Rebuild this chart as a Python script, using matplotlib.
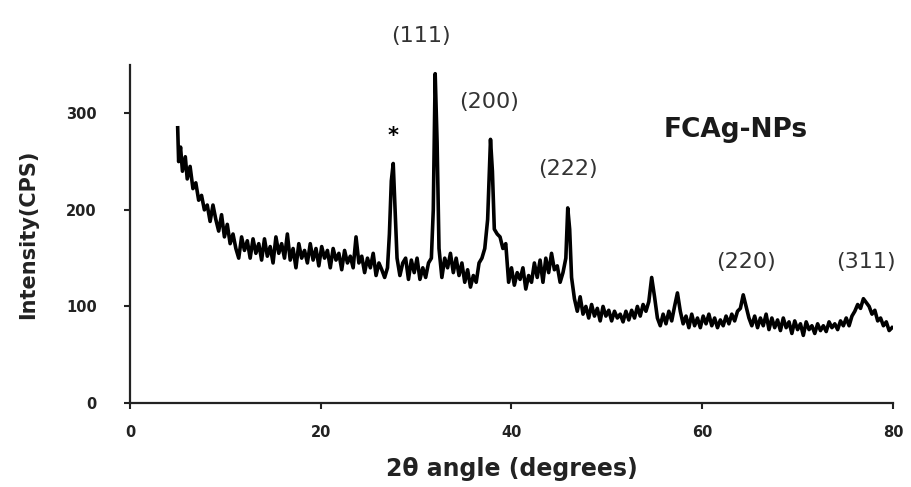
import matplotlib
matplotlib.use("Agg")
import matplotlib.pyplot as plt

# XRD pattern of FCAg-NPs
two_theta = [
    5.0, 5.1, 5.3, 5.5, 5.8, 6.0, 6.3, 6.6, 6.9, 7.2, 7.5, 7.8, 8.1, 8.4, 8.7,
    9.0, 9.3, 9.6, 9.9, 10.2, 10.5, 10.8, 11.1, 11.4, 11.7, 12.0, 12.3, 12.6,
    12.9, 13.2, 13.5, 13.8, 14.1, 14.4, 14.7, 15.0, 15.3, 15.6, 15.9, 16.2,
    16.5, 16.8, 17.1, 17.4, 17.7, 18.0, 18.3, 18.6, 18.9, 19.2, 19.5, 19.8,
    20.1, 20.4, 20.7, 21.0, 21.3, 21.6, 21.9, 22.2, 22.5, 22.8, 23.1, 23.4,
    23.7, 24.0, 24.3, 24.6, 24.9, 25.2, 25.5, 25.8, 26.1, 26.4, 26.7, 27.0,
    27.2, 27.4, 27.6, 27.8, 28.0, 28.3, 28.6, 28.9, 29.2, 29.5, 29.8, 30.1,
    30.4, 30.7, 31.0, 31.3, 31.6, 31.8, 32.0, 32.2, 32.4, 32.7, 33.0, 33.3,
    33.6, 33.9, 34.2, 34.5, 34.8, 35.1, 35.4, 35.7, 36.0, 36.3, 36.6, 36.9,
    37.2, 37.5, 37.8, 38.0, 38.2, 38.5, 38.8, 39.1, 39.4, 39.7, 40.0, 40.3,
    40.6, 40.9, 41.2, 41.5, 41.8, 42.1, 42.4, 42.7, 43.0, 43.3, 43.6, 43.9,
    44.2, 44.5, 44.8, 45.1, 45.4, 45.7, 45.9, 46.1, 46.3, 46.6, 46.9, 47.2,
    47.5, 47.8, 48.1, 48.4, 48.7, 49.0, 49.3, 49.6, 49.9, 50.2, 50.5, 50.8,
    51.1, 51.4, 51.7, 52.0, 52.3, 52.6, 52.9, 53.2, 53.5, 53.8, 54.1, 54.4,
    54.7, 55.0, 55.3, 55.6, 55.9, 56.2, 56.5, 56.8, 57.1, 57.4, 57.7, 58.0,
    58.3, 58.6, 58.9, 59.2, 59.5, 59.8, 60.1, 60.4, 60.7, 61.0, 61.3, 61.6,
    61.9, 62.2, 62.5, 62.8, 63.1, 63.4, 63.7, 64.0, 64.3, 64.6, 64.9, 65.2,
    65.5, 65.8, 66.1, 66.4, 66.7, 67.0, 67.3, 67.6, 67.9, 68.2, 68.5, 68.8,
    69.1, 69.4, 69.7, 70.0, 70.3, 70.6, 70.9, 71.2, 71.5, 71.8, 72.1, 72.4,
    72.7, 73.0, 73.3, 73.6, 73.9, 74.2, 74.5, 74.8, 75.1, 75.4, 75.7, 76.0,
    76.3, 76.6, 76.9, 77.2, 77.5, 77.8, 78.1, 78.4, 78.7, 79.0, 79.3, 79.6,
    79.9,
]
intensity = [
    285, 250, 265, 240, 255, 232, 245, 222, 228, 210, 215, 200, 205, 188, 205,
    190, 178, 195, 172, 185, 165, 175, 160, 150, 172, 158, 168, 150,
    170, 155, 165, 148, 170, 152, 162, 145, 172, 155, 165, 150,
    175, 148, 160, 140, 165, 150, 158, 145, 165, 148, 160, 142,
    162, 150, 158, 140, 160, 148, 155, 138, 158, 145, 152, 140,
    172, 145, 152, 135, 150, 140, 155, 132, 145, 138, 130, 140,
    175, 230, 248, 200, 150, 132, 145, 150, 128, 148, 135, 150,
    128, 140, 130, 145, 150, 200, 341, 270, 160, 130, 150, 140,
    155, 135, 150, 132, 145, 125, 138, 120, 132, 125, 145, 150,
    160, 190, 273, 240, 180, 175, 172, 160, 165, 125, 140, 122,
    135, 128, 140, 118, 132, 125, 145, 130, 148, 125, 150, 135,
    155, 138, 142, 125, 135, 150, 202, 180, 130, 108, 95, 110,
    92, 100, 88, 102, 90, 98, 85, 100, 90, 96, 85, 95,
    88, 92, 84, 95, 86, 96, 88, 100, 90, 102, 95, 105,
    130, 110, 88, 80, 92, 82, 95, 85, 100, 114, 95, 82,
    90, 78, 92, 80, 88, 78, 90, 82, 92, 80, 88, 78,
    86, 80, 90, 82, 92, 85, 95, 98, 112, 100, 88, 80,
    90, 78, 88, 80, 92, 76, 88, 78, 86, 75, 88, 78,
    84, 72, 85, 76, 82, 70, 84, 76, 80, 72, 82, 75,
    80, 74, 84, 78, 82, 76, 85, 80, 88, 80, 90, 95,
    102, 98, 108, 104, 100, 92, 96, 85, 88, 80, 84, 75,
    78,
]

# Miller-index labels and where they sit (x in degrees, y in CPS)
peak_labels = ["(111)", "(200)", "(222)", "(220)", "(311)"]
peak_label_x = [30.5, 37.6, 45.9, 64.6, 77.2]
peak_label_y = [380, 312, 242, 146, 146]

plt.rcParams["font.family"] = ["DejaVu Sans"]

fig = plt.figure(figsize=(9.11, 4.87), dpi=100)
ax = fig.add_axes([0.1427, 0.1725, 0.8375, 0.694])

ax.plot(two_theta, intensity, color="black", linewidth=2.6)

ax.set_xlim(0, 80)
ax.set_ylim(0, 350)
ax.set_xticks([0, 20, 40, 60, 80])
ax.set_yticks([0, 100, 200, 300])

for side in ("top", "right"):
    ax.spines[side].set_visible(False)
for side in ("left", "bottom"):
    ax.spines[side].set_linewidth(1.6)
    ax.spines[side].set_color("#222222")

ax.tick_params(axis="both", direction="out", length=4, width=1.5,
               colors="#222222", labelsize=10.5)
ax.tick_params(axis="x", pad=12)
ax.tick_params(axis="y", pad=20)
for lbl in ax.get_xticklabels() + ax.get_yticklabels():
    lbl.set_fontweight("bold")

ax.set_xlabel("2θ angle (degrees)", fontsize=17, fontweight="bold",
              color="#222222", labelpad=12)
ax.set_ylabel("Intensity(CPS)", fontsize=15, fontweight="bold",
              color="#222222")
ax.yaxis.set_label_coords(-0.12, 0.5)

for text, x, y in zip(peak_labels, peak_label_x, peak_label_y):
    ax.text(x, y, text, ha="center", va="center", fontsize=16,
            color="#333333", clip_on=False)

ax.text(27.6, 276, "*", ha="center", va="center", fontsize=15,
        fontweight="bold", color="black")

ax.text(63.5, 283, "FCAg-NPs", ha="center", va="center", fontsize=19,
        fontweight="bold", color="#1a1a1a")

fig.savefig("out.png", dpi=100)
